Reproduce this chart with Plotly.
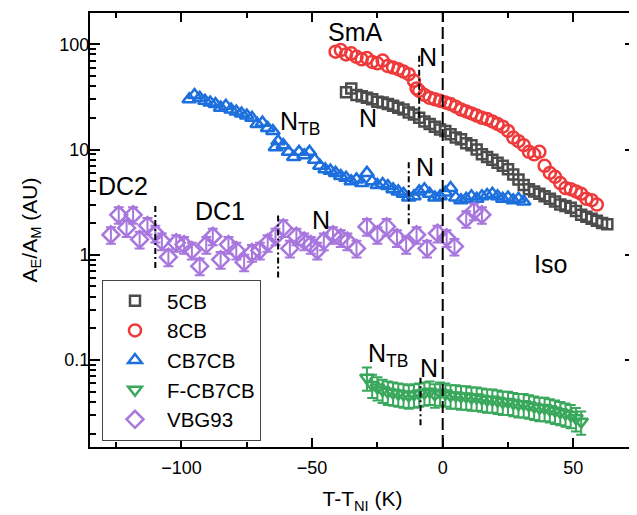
import plotly.graph_objects as go

# ---------------- data ----------------
x_5cb = [-37, -35, -33, -31, -29, -27, -25, -23, -21, -19, -17, -15, -13, -11, -9, -7, -5, -3, -1,
         1, 3, 5, 7, 9, 11, 13, 15, 17, 19, 21, 23, 25, 27, 29, 31, 33, 35, 37, 39, 41, 43, 45,
         47, 49, 51, 53, 55, 57, 59, 61, 63]
y_5cb = [35, 38, 33, 32, 31, 30, 28.5, 28, 27, 26, 25, 24, 22.5, 21.5, 20, 18.5, 17.5, 16.5, 15.5,
         15, 14, 13, 12.5, 11.5, 11, 10, 9, 8.5, 8, 7.5, 7, 6.5, 5.8, 5.2, 4.6, 4.2, 4.0, 3.8, 3.6,
         3.4, 3.2, 3.0, 2.9, 2.8, 2.6, 2.4, 2.3, 2.2, 2.1, 2.0, 1.95]

x_8cb = [-41, -39, -37, -35, -33, -31, -29, -27, -25, -23, -21, -19, -17, -15, -13, -11, -10, -9,
         -7, -5, -3, -1, 1, 3, 5, 7, 9, 11, 13, 15, 17, 19, 21, 23, 25, 27, 29, 31, 33, 35, 37,
         39, 41, 43, 45, 47, 49, 51, 53, 55, 57, 59]
y_8cb = [85, 88, 80, 82, 76, 72, 74, 68, 66, 70, 62, 60, 58, 55, 52, 45, 38, 36, 33, 31, 30, 29,
         28, 27, 25.5, 24, 23, 22, 21, 20, 19.5, 18.5, 17.5, 16.5, 15, 13, 12, 11, 9.5, 9, 9.5, 7,
         6, 5.5, 4.8, 4.3, 4.2, 4.0, 3.8, 3.4, 3.3, 3.0]

x_cb7cb = [-97, -95, -93, -91, -89, -87, -85, -83, -81, -79, -77, -75, -73, -71, -69, -67, -65,
           -64, -63, -61, -59, -57, -55, -53, -51, -49, -47, -45, -43, -41, -39, -37, -35, -33,
           -31, -29, -27, -25, -23, -21, -19, -17, -15, -13, -11, -9, -7, -5, -3, -1, 1, 3, 5,
           7, 9, 11, 13, 15, 17, 19, 21, 23, 25, 27, 29, 31]
y_cb7cb = [30, 33, 31, 29, 28, 27, 25, 26, 24, 23, 22, 21, 20, 17.5, 18, 16, 15, 10.5, 12, 11,
           9.5, 8.5, 9.5, 8.8, 9.5, 8.0, 7.0, 6.5, 6.3, 6.0, 5.6, 5.4, 5.0, 5.2, 4.8, 6.0, 5.0,
           4.6, 4.7, 4.5, 4.2, 4.0, 3.8, 3.5, 3.6, 4.0, 4.2, 3.8, 3.5, 3.6, 3.9, 4.3, 3.5, 3.3,
           3.4, 3.6, 3.4, 3.6, 3.7, 3.8, 3.6, 3.4, 3.5, 3.3, 3.4, 3.2]

x_fcb7cb = [-29, -27, -25, -23, -21, -19, -17, -15, -13, -11, -9, -7, -5, -3, -1, 1, 3, 5, 7, 9,
            11, 13, 15, 17, 19, 21, 23, 25, 27, 29, 31, 33, 35, 37, 39, 41, 43, 45, 47, 49, 51, 53]
y_fcb7cb = [0.068, 0.058, 0.055, 0.052, 0.050, 0.049, 0.048, 0.047, 0.046, 0.047, 0.048, 0.049,
            0.050, 0.047, 0.049, 0.048, 0.046, 0.046, 0.045, 0.045, 0.044, 0.044, 0.043, 0.042,
            0.042, 0.041, 0.040, 0.040, 0.039, 0.038, 0.038, 0.037, 0.036, 0.035, 0.035, 0.034,
            0.033, 0.032, 0.031, 0.030, 0.028, 0.026]

x_vbg = [-127, -124, -121, -118.5, -116, -113, -110, -107.5, -105, -102, -99, -96, -93, -90.5,
         -88, -85, -82, -79, -76, -73, -70, -67, -64, -61, -58.5, -56, -53, -50.5, -48, -45.5,
         -42, -39, -36.5, -33, -29, -25, -21.5, -17.5, -14, -10, -6, -2, 1.5, 4.5, 9, 12, 15]
y_vbg = [1.55, 2.4, 1.8, 2.4, 1.4, 1.9, 1.6, 1.35, 0.95, 1.3, 1.25, 1.1, 0.78, 1.25, 1.5, 0.9,
         1.25, 1.1, 0.85, 1.05, 1.1, 1.3, 1.5, 1.8, 1.15, 1.5, 1.35, 1.25, 1.1, 1.35, 1.55, 1.45,
         1.35, 1.15, 1.85, 1.55, 1.85, 1.45, 1.25, 1.55, 1.15, 1.6, 1.45, 1.2, 2.2, 2.6, 2.4]

# phase-boundary markers (x position, y from, y to)
boundary_x = [-110, -63, -13, -9, -8.5]
boundary_y0 = [0.75, 0.61, 1.95, 20, 0.024]
boundary_y1 = [3.0, 2.5, 7.6, 80, 0.068]

# phase labels (x, log10 y, text)
label_x = [-33.5, -5.6, -28.6, -54.5, -6.8, -122.3, -85.1, -46.5, 41.1, -21.0, -5.2]
label_logy = [2.117, 1.879, 1.30, 1.25, 0.834, 0.655, 0.418, 0.332, -0.086, -0.95, -1.074]
label_text = ["SmA", "N", "N", "N<sub>TB</sub>", "N", "DC2", "DC1", "N", "Iso",
              "N<sub>TB</sub>", "N"]

FONT = "Liberation Sans, Arial, sans-serif"

fig = go.Figure()

series = [
    ("5CB", x_5cb, y_5cb, "square-open", "#4c4c4c", 10, None),
    ("8CB", x_8cb, y_8cb, "circle-open", "#ee3a3a", 12, None),
    ("CB7CB", x_cb7cb, y_cb7cb, "triangle-up-open", "#1c6fdc", 12, None),
    ("F-CB7CB", x_fcb7cb, y_fcb7cb, "triangle-down-open", "#3aa85c", 12, 25),
    ("VBG93", x_vbg, y_vbg, "diamond-open", "#a877dd", 13, 18),
]
for name, xs, ys, sym, col, sz, err in series:
    kw = {}
    if err is not None:
        kw["error_y"] = dict(type="percent", value=err, color=col, thickness=2, width=5)
    fig.add_trace(go.Scatter(
        x=xs, y=ys, mode="markers", name=name,
        marker=dict(symbol=sym, size=sz, color=col, line=dict(width=2.5, color=col)),
        **kw))

for bx, b0, b1 in zip(boundary_x, boundary_y0, boundary_y1):
    fig.add_trace(go.Scatter(
        x=[bx, bx], y=[b0, b1], mode="lines", showlegend=False, hoverinfo="skip",
        line=dict(color="black", width=2, dash="6px,3px,2px,3px")))

fig.add_shape(type="line", xref="x", yref="paper", x0=0, x1=0, y0=0, y1=1,
              line=dict(color="black", width=2, dash="12px,5px"))

for lx, ly, lt in zip(label_x, label_logy, label_text):
    fig.add_annotation(x=lx, y=ly, text=lt, showarrow=False,
                       font=dict(family=FONT, size=25, color="black"))

minor_y = [0.02, 0.03, 0.04, 0.05, 0.06, 0.07, 0.08, 0.09,
           0.2, 0.3, 0.4, 0.5, 0.6, 0.7, 0.8, 0.9,
           2, 3, 4, 5, 6, 7, 8, 9,
           20, 30, 40, 50, 60, 70, 80, 90]

# the page body adds an 8px margin, so the figure is 8px smaller and margins shifted
fig.update_layout(
    width=629, height=507,
    margin=dict(l=82, r=2, t=5, b=68),
    paper_bgcolor="white", plot_bgcolor="white",
    font=dict(family=FONT, size=18, color="black"),
    showlegend=True,
    legend=dict(x=0.022, y=0.385, xanchor="left", yanchor="top",
                bordercolor="#444", borderwidth=1, bgcolor="white",
                font=dict(family=FONT, size=20.5, color="black"),
                itemwidth=54),
    xaxis=dict(range=[-135, 73.6], tickvals=[-100, -50, 0, 50], automargin=False,
               ticks="inside", ticklen=9, tickwidth=2, tickcolor="black",
               showline=True, linewidth=2, linecolor="black", mirror="ticks",
               showgrid=False, zeroline=False, ticklabelstandoff=3,
               minor=dict(tickvals=[-125, -75, -25, 25], ticks="inside", ticklen=5,
                          tickwidth=2, tickcolor="black", showgrid=False),
               tickfont=dict(family=FONT, size=18),
               title=dict(text="T-T<sub>NI</sub> (K)", font=dict(family=FONT, size=21),
                          standoff=15)),
    yaxis=dict(type="log", range=[-1.826, 2.297], tickvals=[0.1, 1, 10, 100],
               ticktext=["0.1", "1", "10", "100"], automargin=False,
               ticks="inside", ticklen=10, tickwidth=2, tickcolor="black",
               showline=True, linewidth=2, linecolor="black", mirror="ticks",
               showgrid=False, zeroline=False, ticklabelstandoff=-5,
               minor=dict(tickvals=minor_y, ticks="inside", ticklen=6,
                          tickwidth=2, tickcolor="black", showgrid=False),
               tickfont=dict(family=FONT, size=18),
               title=dict(text="A<sub>E</sub>/A<sub>M</sub> (AU)",
                          font=dict(family=FONT, size=21), standoff=16)),
)

fig.write_html("out.html")
